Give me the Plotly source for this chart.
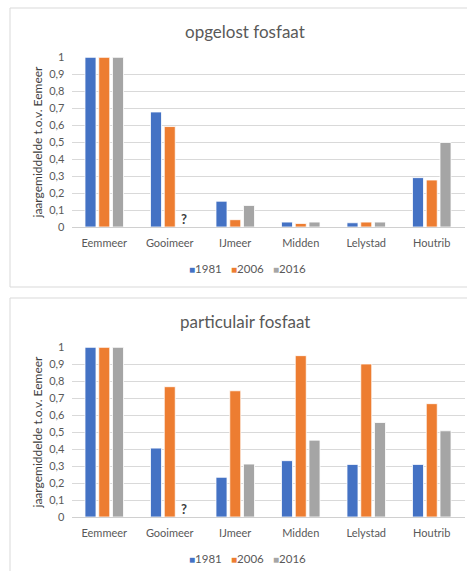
import plotly.graph_objects as go

# Measuring stations and years
stations = ["Eemmeer", "Gooimeer", "IJmeer", "Midden", "Lelystad", "Houtrib"]
years = ["1981", "2006", "2016"]
colors = ["#4472C4", "#ED7D31", "#A5A5A5"]

# Annual mean relative to Eemmeer (None = no measurement)
opgelost_1981 = [1.0, 0.678, 0.152, 0.029, 0.025, 0.291]
opgelost_2006 = [1.0, 0.592, 0.043, 0.021, 0.029, 0.277]
opgelost_2016 = [1.0, None, 0.127, 0.029, 0.029, 0.498]

particulair_1981 = [1.0, 0.406, 0.234, 0.332, 0.310, 0.310]
particulair_2006 = [1.0, 0.768, 0.744, 0.951, 0.902, 0.668]
particulair_2016 = [1.0, None, 0.312, 0.453, 0.557, 0.508]

tick_vals = [0, 0.1, 0.2, 0.3, 0.4, 0.5, 0.6, 0.7, 0.8, 0.9, 1]
tick_text = ["0", "0,1", "0,2", "0,3", "0,4", "0,5", "0,6", "0,7", "0,8", "0,9", "1"]

W, H = 467, 571
FONT = "Lato, 'Open Sans', sans-serif"
TXT = "#595959"
KEY_X = [187, 229, 271]  # left edge of each key entry, px


def px_x(p):
    return p / W


def px_y(p):
    return 1 - p / H


fig = go.Figure()

panels = [
    ("opgelost fosfaat", [opgelost_1981, opgelost_2006, opgelost_2016], "x", "y", 0),
    ("particulair fosfaat", [particulair_1981, particulair_2006, particulair_2016], "x2", "y2", 290),
]

for title, series, xa, ya, off in panels:
    for yr, vals, col in zip(years, series, colors):
        fig.add_trace(go.Bar(
            x=stations, y=vals, name=yr, xaxis=xa, yaxis=ya, showlegend=False,
            marker=dict(color=col, line=dict(color="white", width=0.8)),
            hoverinfo="x+y+name",
        ))
    # panel frame
    fig.add_shape(type="rect", xref="paper", yref="paper",
                  x0=px_x(10), x1=px_x(480), y0=px_y(off + 287), y1=px_y(off + 8),
                  line=dict(color="#d9d9d9", width=1), fillcolor="rgba(0,0,0,0)", layer="below")
    fig.add_annotation(text=title, xref="paper", yref="paper", x=px_x(245), y=px_y(off + 31),
                       showarrow=False, font=dict(family=FONT, size=17, color=TXT),
                       xanchor="center", yanchor="middle")
    # missing 2016 value at Gooimeer
    fig.add_annotation(text="<b>?</b>", xref=xa, yref=ya, x="Gooimeer", y=0.05,
                       xshift=14, showarrow=False,
                       font=dict(family=FONT, size=13, color="#404040"))
    # series key below the categories
    for kx, yr, col in zip(KEY_X, years, colors):
        fig.add_annotation(text=f"<span style='color:{col};font-size:10px'>■</span>{yr}",
                           xref="paper", yref="paper", x=px_x(kx), y=px_y(off + 268),
                           showarrow=False, xanchor="left", yanchor="middle",
                           font=dict(family=FONT, size=11.5, color=TXT))

axis_common = dict(showgrid=False, showline=False, ticks="", ticklabelstandoff=8,
                   tickfont=dict(family=FONT, size=11, color=TXT))
yaxis_common = dict(range=[0, 1.002], tickvals=tick_vals, ticktext=tick_text,
                    showgrid=True, gridcolor="#d9d9d9", gridwidth=1,
                    zeroline=True, zerolinecolor="#d0d0d0", zerolinewidth=1,
                    showline=False, ticks="", ticklabelstandoff=6,
                    tickfont=dict(family=FONT, size=11, color=TXT),
                    title=dict(text="jaargemiddelde t.o.v. Eemeer", standoff=4,
                               font=dict(family=FONT, size=12, color="#404040")))

fig.update_layout(
    width=W, height=H,
    margin=dict(l=0, r=0, t=0, b=0, autoexpand=False),
    paper_bgcolor="white", plot_bgcolor="white",
    barmode="group", bargap=0.37, bargroupgap=0.2,
    font=dict(family=FONT, color=TXT),
    xaxis=dict(domain=[px_x(71.5), px_x(464.5)], anchor="y", **axis_common),
    yaxis=dict(domain=[px_y(227), px_y(57)], anchor="x", **yaxis_common),
    xaxis2=dict(domain=[px_x(71.5), px_x(464.5)], anchor="y2", **axis_common),
    yaxis2=dict(domain=[px_y(517), px_y(347)], anchor="x2", **yaxis_common),
    showlegend=False,
)

fig.write_html("out.html")
